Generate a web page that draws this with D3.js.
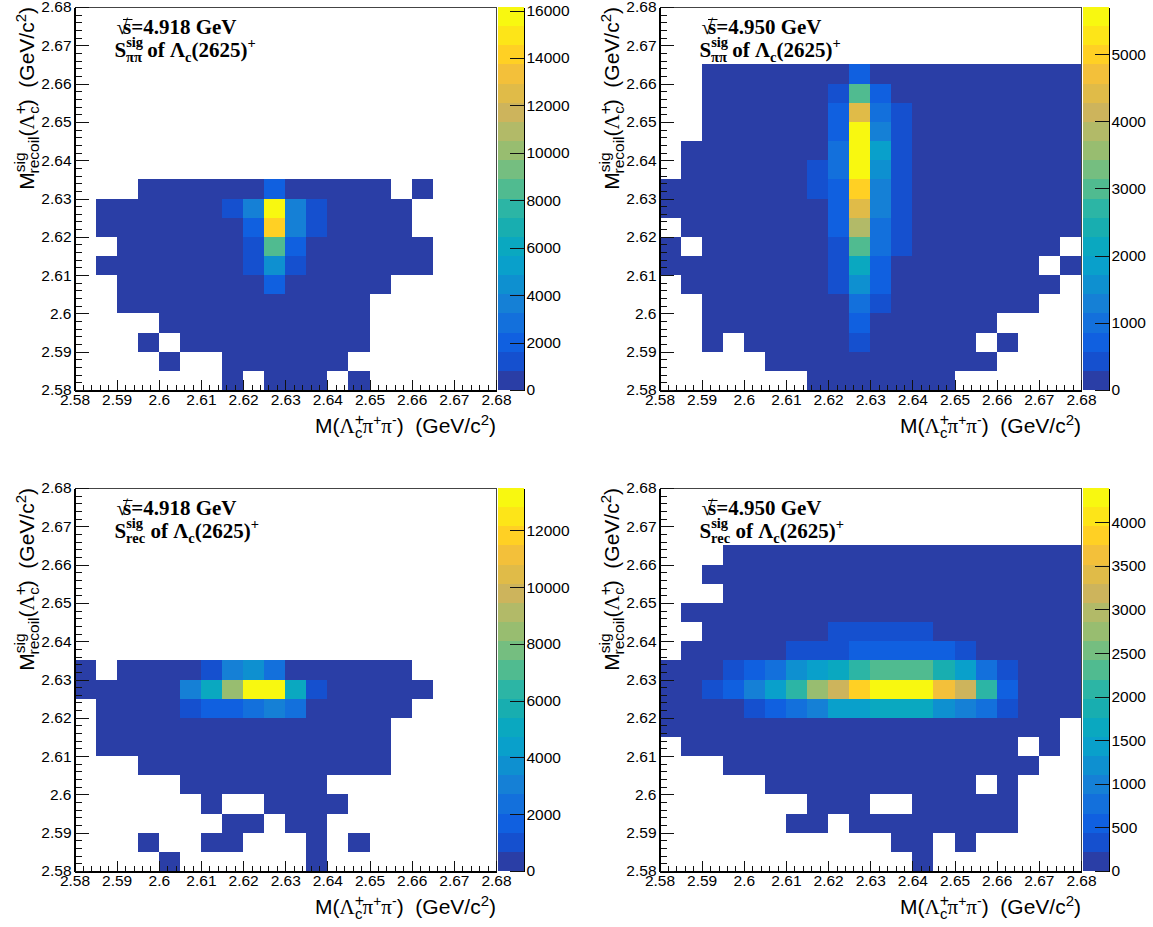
<!doctype html>
<html>

<head>
    <meta charset="utf-8">
    <title>Lambda_c(2625) recoil mass vs invariant mass</title>
    <style>
    html, body { margin: 0; padding: 0; background: #fff; }
    svg { display: block; }
    text { font-family: "Liberation Sans", Arial, sans-serif; fill: #000; }
    .cell, .tick line, .domain, .frame { shape-rendering: crispEdges; }
    </style>
    <script src="https://cdn.jsdelivr.net/npm/d3@7"></script>
</head>

<body>
    <svg width="1153" height="927"></svg>
    <script>
    var _ = null;

    // tick labels, the same on both axes of every panel
    var massTicks = [2.58, 2.59, 2.6, 2.61, 2.62, 2.63, 2.64, 2.65, 2.66, 2.67, 2.68];

    // the 20 colour bands of the z scale, low to high
    var bandColors = ["#2a3ea6", "#1550cf", "#1060e0", "#1370dc", "#1580d6", "#0e90d0", "#09a0cb", "#0aa8c0",
        "#18aeb0", "#2cb5a5", "#50bb90", "#75be80", "#98bd70", "#b2ba68", "#cdb45c", "#e0bb48",
        "#f3c03a", "#ffd024", "#fde518", "#f8f810"];

    // counts per bin, rows go upward from 2.58 in 0.005 steps, columns go right from 2.58
    var pipi4918 = [
        [_,_,_,_,_,_,_,300,_,300,300,300,_,300,_,_,_,_,_,_],
        [_,_,_,_,300,_,_,300,300,300,300,300,300,_,_,_,_,_,_,_],
        [_,_,_,300,_,300,300,300,300,300,300,300,300,300,_,_,_,_,_,_],
        [_,_,_,_,300,300,300,300,300,300,300,300,300,300,_,_,_,_,_,_],
        [_,_,300,300,300,300,300,300,300,300,300,300,300,300,_,_,_,_,_,_],
        [_,_,300,300,300,300,300,300,300,2000,300,300,300,300,300,_,_,_,_,_],
        [_,300,300,300,300,300,300,300,1300,4500,1300,300,300,300,300,300,300,_,_,_],
        [_,_,300,300,300,300,300,300,1300,8500,2000,300,300,300,300,300,300,_,_,_],
        [_,300,300,300,300,300,300,300,2000,14400,3600,1200,300,300,300,300,_,_,_,_],
        [_,300,300,300,300,300,300,1200,3300,16100,3600,1200,300,300,300,300,_,_,_,_],
        [_,_,_,300,300,300,300,300,300,2000,300,300,300,300,300,_,300,_,_,_]
    ];
    var pipi4950 = [
        [_,_,_,_,_,_,_,100,100,100,100,100,100,100,_,_,_,_,_,_],
        [_,_,_,_,_,100,100,100,100,100,100,100,100,100,100,100,_,_,_,_],
        [_,_,100,_,100,100,100,100,100,400,100,100,100,100,100,_,100,_,_,_],
        [_,_,100,100,100,100,100,100,100,700,100,100,100,100,100,100,_,_,_,_],
        [_,_,100,100,100,100,100,100,100,1000,400,100,100,100,100,100,100,100,_,_],
        [_,100,100,100,100,100,100,100,400,1600,700,100,100,100,100,100,100,100,100,_],
        [100,100,100,100,100,100,100,100,400,2150,700,100,100,100,100,100,100,100,_,100],
        [100,_,100,100,100,100,100,100,400,3000,1000,400,100,100,100,100,100,100,100,_],
        [_,100,100,100,100,100,100,100,700,3850,1000,400,100,100,100,100,100,100,100,100],
        [100,100,100,100,100,100,100,100,700,4400,1300,400,100,100,100,100,100,100,100,100],
        [100,100,100,100,100,100,100,400,700,5000,1300,400,100,100,100,100,100,100,100,100],
        [_,100,100,100,100,100,100,400,1000,5650,1600,400,100,100,100,100,100,100,100,100],
        [_,100,100,100,100,100,100,100,1000,5650,1850,400,100,100,100,100,100,100,100,100],
        [_,_,100,100,100,100,100,100,700,5650,1300,400,100,100,100,100,100,100,100,100],
        [_,_,100,100,100,100,100,100,700,4400,1000,400,100,100,100,100,100,100,100,100],
        [_,_,100,100,100,100,100,100,400,3000,700,100,100,100,100,100,100,100,100,100],
        [_,_,100,100,100,100,100,100,100,700,100,100,100,100,100,100,100,100,100,100]
    ];
    var rec4918 = [
        [_,_,_,_,200,_,_,_,_,_,_,200,_,_,_,_,_,_,_,_],
        [_,_,_,200,_,_,200,200,_,_,_,200,_,200,_,_,_,_,_,_],
        [_,_,_,_,_,_,_,200,200,_,200,200,_,_,_,_,_,_,_,_],
        [_,_,_,_,_,_,200,_,_,200,200,200,200,_,_,_,_,_,_,_],
        [_,_,_,_,_,200,200,200,200,200,200,200,_,_,_,_,_,_,_,_],
        [_,_,_,200,200,200,200,200,200,200,200,200,200,200,200,_,_,_,_,_],
        [_,200,200,200,200,200,200,200,200,200,200,200,200,200,200,_,_,_,_,_],
        [_,200,200,200,200,200,200,200,200,200,200,200,200,200,200,_,_,_,_,_],
        [_,200,200,200,200,1000,1700,1700,2400,3000,2400,200,200,200,200,200,_,_,_,_],
        [200,200,200,200,200,3000,5000,8300,13400,13400,5000,1000,200,200,200,200,200,_,_,_],
        [200,_,200,200,200,200,1000,3000,3700,2400,200,200,200,200,200,200,_,_,_,_]
    ];
    var rec4950 = [
        [_,_,_,_,_,_,_,_,_,_,_,_,100,_,_,_,_,_,_,_],
        [_,_,_,_,_,_,_,_,_,_,_,100,100,_,100,_,_,_,_,_],
        [_,_,_,_,_,_,100,100,_,100,100,100,100,100,100,100,100,_,_,_],
        [_,_,_,_,_,_,_,100,100,100,_,_,100,100,100,100,100,_,_,_],
        [_,_,_,_,_,100,100,100,100,100,100,100,100,100,100,_,100,_,_,_],
        [_,_,_,100,100,100,100,100,100,100,100,100,100,100,100,100,100,100,_,_],
        [_,100,100,100,100,100,100,100,100,100,100,100,100,100,100,100,100,_,100,_],
        [100,100,100,100,100,100,100,100,100,100,100,100,100,100,100,100,100,100,100,_],
        [100,100,100,100,330,550,770,990,1430,1430,1650,1650,1650,1200,990,770,330,100,100,100],
        [100,100,330,550,990,1430,2090,2750,3190,3840,4350,4350,4350,3620,3190,2090,550,100,100,100],
        [100,100,100,330,550,770,1200,1430,1650,2090,2300,2300,2300,1870,1430,770,330,100,100,100],
        [_,100,100,100,100,100,330,330,330,550,550,550,550,550,330,100,100,100,100,100],
        [_,_,100,100,100,100,100,100,330,330,330,330,330,100,100,100,100,100,100,100],
        [_,100,100,100,100,100,100,100,100,100,100,100,100,100,100,100,100,100,100,100],
        [_,_,_,100,100,100,100,100,100,100,100,100,100,100,100,100,100,100,100,100],
        [_,_,100,100,100,100,100,100,100,100,100,100,100,100,100,100,100,100,100,100],
        [_,_,_,100,100,100,100,100,100,100,100,100,100,100,100,100,100,100,100,100]
    ];

    // colour bar ranges and tick labels
    var zMaxes = [16150, 5700, 13490, 4393];
    var zTicks4918pipi = [0, 2000, 4000, 6000, 8000, 10000, 12000, 14000, 16000];
    var zTicks4950pipi = [0, 1000, 2000, 3000, 4000, 5000];
    var zTicks4918rec = [0, 2000, 4000, 6000, 8000, 10000, 12000];
    var zTicks4950rec = [0, 500, 1000, 1500, 2000, 2500, 3000, 3500, 4000];

    var energies = ["4.918", "4.950", "4.918", "4.950"];
    var subscripts = ["ππ", "ππ", "rec", "rec"];

    var svg = d3.select("svg"),
        frameW = 421.5,
        frameH = 383,
        binW = 0.005,
        lefts = [74.5, 659.5, 74.5, 659.5],
        tops = [7, 7, 488, 488],
        grids = [pipi4918, pipi4950, rec4918, rec4950],
        zTicks = [zTicks4918pipi, zTicks4950pipi, zTicks4918rec, zTicks4950rec];

    var serif = '"Liberation Serif", "Times New Roman", serif';

    // writes a formula as tspans: up = baseline shift, back = pull back to stack sub under sup
    function mathText(text, parts) {
        var prev = 0;
        parts.forEach(function(p) {
            var up = p.up || 0;
            var span = text.append("tspan")
                .attr("dy", prev - up)
                .style("font-size", p.size + "px")
                .text(p.t);
            if (p.back) span.attr("dx", -p.back);
            if (p.font) span.style("font-family", p.font);
            if (p.weight) span.style("font-weight", p.weight);
            prev = up;
        });
    }

    function styleAxis(a) {
        a.selectAll("text").style("font-size", "15.5px").style("font-family", '"Liberation Sans"');
        a.selectAll(".tick line").attr("stroke", "#111");
        a.select(".domain").attr("stroke", "#000").attr("stroke-width", 2);
    }

    grids.forEach(function(rows, k) {
        var g = svg.append("g").attr("transform", "translate(" + lefts[k] + "," + tops[k] + ")");

        var x = d3.scaleLinear().domain([2.58, 2.68]).range([0, frameW]);
        var y = d3.scaleLinear().domain([2.58, 2.68]).range([frameH, 0]);
        var z = d3.scaleLinear().domain([0, zMaxes[k]]).range([frameH, 0]);
        var color = d3.scaleQuantize().domain([0, zMaxes[k]]).range(bandColors);

        var cells = [];
        rows.forEach(function(row, j) {
            row.forEach(function(v, i) {
                if (v !== null) cells.push({ i: i, j: j, v: v });
            });
        });

        g.selectAll("rect.cell")
            .data(cells)
            .enter().append("rect")
            .attr("class", "cell")
            .attr("x", function(d) { return x(2.58 + d.i * binW); })
            .attr("y", function(d) { return y(2.58 + (d.j + 1) * binW); })
            .attr("width", x(2.58 + binW) - x(2.58))
            .attr("height", y(2.58) - y(2.58 + binW))
            .attr("fill", function(d) { return color(d.v); });

        // colour bar
        var bar = g.append("g").attr("transform", "translate(" + (frameW + 2) + ",0)");
        bar.selectAll("rect")
            .data(bandColors)
            .enter().append("rect")
            .attr("class", "cell")
            .attr("x", 0)
            .attr("y", function(d, n) { return z((n + 1) / bandColors.length * zMaxes[k]); })
            .attr("width", 25.5)
            .attr("height", frameH / bandColors.length)
            .attr("fill", function(d) { return d; });

        var zAxis = d3.axisRight(z).tickValues(zTicks[k]).tickSizeInner(-14).tickSizeOuter(0).tickPadding(3)
            .tickFormat(d3.format("d"));
        bar.append("g").attr("transform", "translate(25.5,0)").call(zAxis).call(styleAxis);
        bar.selectAll(".domain").attr("stroke-width", 1);

        // top and right of the frame
        g.append("path")
            .attr("class", "frame")
            .attr("d", "M0,0H" + frameW + "V" + frameH)
            .attr("fill", "none")
            .attr("stroke", "#444");

        var minor = d3.range(0, 51).map(function(n) { return 2.58 + n * 0.002; })
            .filter(function(n, a) { return a % 5 !== 0; });

        var xAxis = d3.axisBottom(x).tickValues(massTicks).tickSizeInner(-10).tickSizeOuter(0).tickPadding(4)
            .tickFormat(d3.format(""));
        var xMinor = d3.axisBottom(x).tickValues(minor).tickSizeInner(-5).tickSizeOuter(0).tickFormat("");
        var yAxis = d3.axisLeft(y).tickValues(massTicks).tickSizeInner(-14).tickSizeOuter(0).tickPadding(3)
            .tickFormat(d3.format(""));
        var yMinor = d3.axisLeft(y).tickValues(minor).tickSizeInner(-7).tickSizeOuter(0).tickFormat("");

        g.append("g").attr("transform", "translate(0," + frameH + ")").call(xMinor).call(styleAxis);
        g.append("g").attr("transform", "translate(0," + frameH + ")").call(xAxis).call(styleAxis);
        g.append("g").call(yMinor).call(styleAxis);
        g.append("g").call(yAxis).call(styleAxis);

        // axis titles
        var xTitle = g.append("text")
            .attr("x", frameW)
            .attr("y", 426)
            .attr("text-anchor", "end");
        mathText(xTitle, [
            { t: "M(", size: 21 },
            { t: "Λ", size: 21, font: serif },
            { t: "+", size: 16, up: 8 },
            { t: "c", size: 15, up: -5, back: 9 },
            { t: "π", size: 21, font: serif },
            { t: "+", size: 14, up: 8 },
            { t: "π", size: 21, font: serif },
            { t: "-", size: 14, up: 8 },
            { t: ")\u00a0\u00a0(GeV/c", size: 21 },
            { t: "2", size: 15, up: 8 },
            { t: ")", size: 21 }
        ]);

        var yTitle = g.append("text")
            .attr("transform", "translate(-41,0) rotate(-90)")
            .attr("text-anchor", "end");
        mathText(yTitle, [
            { t: "M", size: 21 },
            { t: "sig", size: 15.5, up: 9 },
            { t: "recoil", size: 15.5, up: -5, back: 21 },
            { t: "(", size: 21 },
            { t: "Λ", size: 21, font: serif },
            { t: "+", size: 16, up: 8 },
            { t: "c", size: 15, up: -5, back: 9 },
            { t: ")\u00a0\u00a0(GeV/c", size: 21 },
            { t: "2", size: 15, up: 8 },
            { t: ")", size: 21 }
        ]);

        // energy and sample label, with the bar of the root drawn by hand
        var line1 = g.append("text")
            .attr("x", 42)
            .attr("y", 27)
            .style("font-family", serif)
            .style("font-weight", "bold");
        mathText(line1, [
            { t: "√", size: 21, weight: "normal" },
            { t: "s", size: 21, back: 5 },
            { t: "=" + energies[k] + " GeV", size: 21 }
        ]);
        g.append("line")
            .attr("x1", 48.5)
            .attr("x2", 58)
            .attr("y1", 12.5)
            .attr("y2", 12.5)
            .attr("stroke", "#000");

        var line2 = g.append("text")
            .attr("x", 40)
            .attr("y", 50)
            .style("font-family", serif)
            .style("font-weight", "bold");
        mathText(line2, [
            { t: "S", size: 21 },
            { t: "sig", size: 14.5, up: 10 },
            { t: subscripts[k], size: 14.5, up: -5, back: 17 },
            { t: " of ", size: 21 },
            { t: "Λ", size: 21 },
            { t: "c", size: 14.5, up: -5 },
            { t: "(2625)", size: 21 },
            { t: "+", size: 14.5, up: 9 }
        ]);
    });
    </script>
</body>

</html>
